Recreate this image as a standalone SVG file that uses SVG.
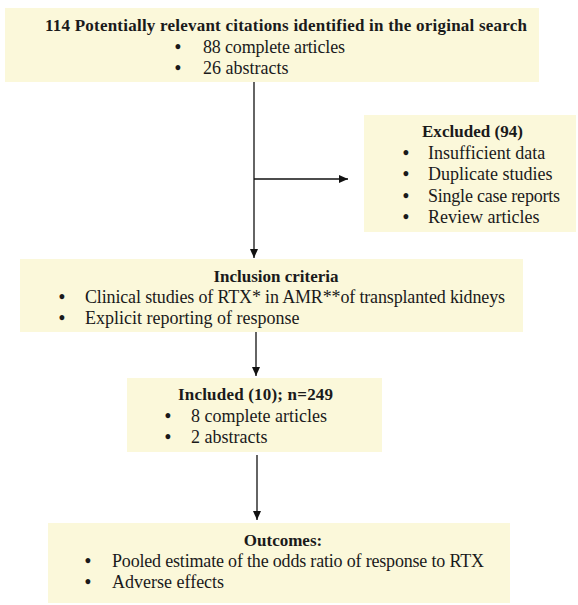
<svg xmlns="http://www.w3.org/2000/svg" width="578" height="605" viewBox="0 0 578 605">
<style>
.box{fill:#fbf8da;stroke:none}
text{font-family:"Liberation Serif","Times New Roman",serif;font-size:18px;fill:#1a1a1a}
.b{font-weight:bold;font-size:17px}
.c{text-anchor:middle}
.bu{font-size:18px;font-weight:bold;text-anchor:middle}
.ln{stroke:#111;stroke-width:1.3;fill:none}
</style>
<defs>
<marker id="ah" markerWidth="10" markerHeight="10" refX="9" refY="5" orient="auto" markerUnits="userSpaceOnUse">
<path d="M0,1 L9,5 L0,9 Z" fill="#111"/>
</marker>
</defs>
<rect width="578" height="605" fill="#fff"/>
<g id="connectors">
<line class="ln" x1="254" y1="82" x2="254" y2="258" marker-end="url(#ah)"/>
<line class="ln" x1="254" y1="179" x2="348" y2="179" marker-end="url(#ah)"/>
<line class="ln" x1="256" y1="332" x2="256" y2="376" marker-end="url(#ah)"/>
<line class="ln" x1="257" y1="455" x2="257" y2="520" marker-end="url(#ah)"/>
</g>
<g id="search">
<rect class="box" x="5" y="8" width="534" height="74"/>
<text class="b" x="45" y="31" textLength="482">114 Potentially relevant citations identified in the original search</text>
<text class="bu" x="178" y="53">•</text><text x="203" y="53" textLength="142">88 complete articles</text>
<text class="bu" x="178" y="74">•</text><text x="203" y="74">26 abstracts</text>
</g>
<g id="excluded">
<rect class="box" x="364" y="115" width="212" height="117"/>
<text class="b" x="422" y="137" textLength="101">Excluded (94)</text>
<text class="bu" x="406" y="159">•</text><text x="428" y="159">Insufficient data</text>
<text class="bu" x="406" y="180">•</text><text x="428" y="180">Duplicate studies</text>
<text class="bu" x="406" y="202">•</text><text x="428" y="202" textLength="132">Single case reports</text>
<text class="bu" x="406" y="223">•</text><text x="428" y="223">Review articles</text>
</g>
<g id="inclusion">
<rect class="box" x="20" y="259" width="503" height="73"/>
<text class="b c" x="276" y="282">Inclusion criteria</text>
<text class="bu" x="62" y="303">•</text><text x="85" y="303" textLength="420">Clinical studies of RTX* in AMR**of transplanted kidneys</text>
<text class="bu" x="62" y="324">•</text><text x="85" y="324">Explicit reporting of response</text>
</g>
<g id="included">
<rect class="box" x="127" y="378" width="255" height="74"/>
<text class="b" x="178" y="400" textLength="155">Included (10); n=249</text>
<text class="bu" x="168" y="422">•</text><text x="191" y="422">8 complete articles</text>
<text class="bu" x="168" y="443">•</text><text x="191" y="443">2 abstracts</text>
</g>
<g id="outcomes">
<rect class="box" x="48" y="523" width="462" height="80"/>
<text class="b c" x="283" y="546">Outcomes:</text>
<text class="bu" x="88" y="567">•</text><text x="112" y="567" textLength="372">Pooled estimate of the odds ratio of response to RTX</text>
<text class="bu" x="88" y="588">•</text><text x="112" y="588">Adverse effects</text>
</g>
</svg>
